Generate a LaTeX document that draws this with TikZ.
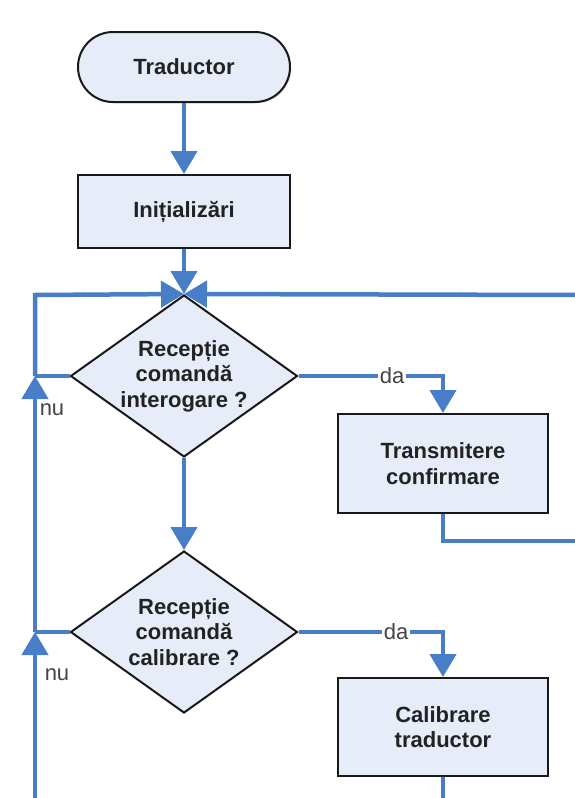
\documentclass[tikz,border=0pt]{standalone}
\usepackage{fontspec}
\setmainfont{Liberation Sans}
\usetikzlibrary{arrows.meta,shapes.geometric,shadows}
\definecolor{flowblue}{RGB}{72,126,200}
\definecolor{boxfill}{RGB}{230,236,248}
\definecolor{txtgray}{RGB}{34,34,34}
\begin{document}
\begin{tikzpicture}[x=1pt,y=-1pt,
  boxtext/.style={font=\fontsize{22}{25.5}\selectfont\bfseries, text=txtgray, align=center},
  procbox/.style={boxtext, draw=black!90, line width=2pt, fill=boxfill, inner sep=0pt, minimum width=210pt,
    drop shadow={shadow xshift=1.2pt,shadow yshift=-1.2pt,opacity=0.35}},
  termbox/.style={procbox, rounded corners=35pt, minimum width=212pt, minimum height=70pt},
  decision/.style={diamond, draw=black!90, line width=2pt, fill=boxfill, inner sep=0pt, aspect=1.4,
    minimum width=227pt, minimum height=162pt},
  flow/.style={draw=flowblue, line width=4.5pt},
  arr/.style={flow, -{Triangle[length=23pt,width=26pt]}},
  lbl/.style={font=\fontsize{22}{25}\selectfont, text=txtgray!85, inner sep=1.5pt},
]
\useasboundingbox (0,0) rectangle (575,798);

% nodes
\node[termbox] (term) at (184,67) {Traductor};
\node[procbox, minimum width=212pt, minimum height=73pt] (init) at (184,211.5) {Inițializări};
\node[decision] (d1) at (184,376) {};
\node[boxtext] (d1t) at (d1.center) {Recepție\\comandă\\interogare ?};
\node[procbox, minimum height=99pt] (t1) at (443,463.5) {Transmitere\\confirmare};
\node[decision] (d2) at (184,632) {};
\node[boxtext] (d2t) at (d2.center) {Recepție\\comandă\\calibrare ?};
\node[procbox, minimum height=98pt] (c1) at (443,727) {Calibrare\\traductor};

% auxiliary points
\coordinate (LT) at (35,295);
\coordinate (L1) at (35,376);
\coordinate (L2) at (35,632);
\coordinate (LB) at (35,802);
\coordinate (RT) at (577,295);
\coordinate (R1) at (577,541);
\coordinate (K1) at (443,541);
\coordinate (B1) at (443,802);
\coordinate (J1) at (443,376);
\coordinate (J2) at (443,632);

% connectors
\draw[arr] (term.south) -- (init.north);
\draw[arr] (init.south) -- (d1.north);
\draw[arr] (L1) -- (LT) -- (d1.north);
\draw[flow] (d1.west) -- (L1);
\draw[arr] (L2) -- (L1);
\draw[flow] (d2.west) -- (L2);
\draw[arr] (LB) -- (L2);
\draw[arr] (RT) -- (d1.north);
\draw[arr] (d1.east) -- (J1) -- (t1.north);
\draw[flow] (t1.south) -- (K1) -- (R1);
\draw[arr] (d1.south) -- (d2.north);
\draw[arr] (d2.east) -- (J2) -- (c1.north);
\draw[flow] (c1.south) -- (B1);

% labels
\node[lbl, fill=white] (da1) at (392,376) {da};
\node[lbl, fill=white] (da2) at (396,632) {da};
\node[lbl] (nu1) at (52,410) {nu};
\node[lbl] (nu2) at (57,675) {nu};
\end{tikzpicture}
\end{document}
